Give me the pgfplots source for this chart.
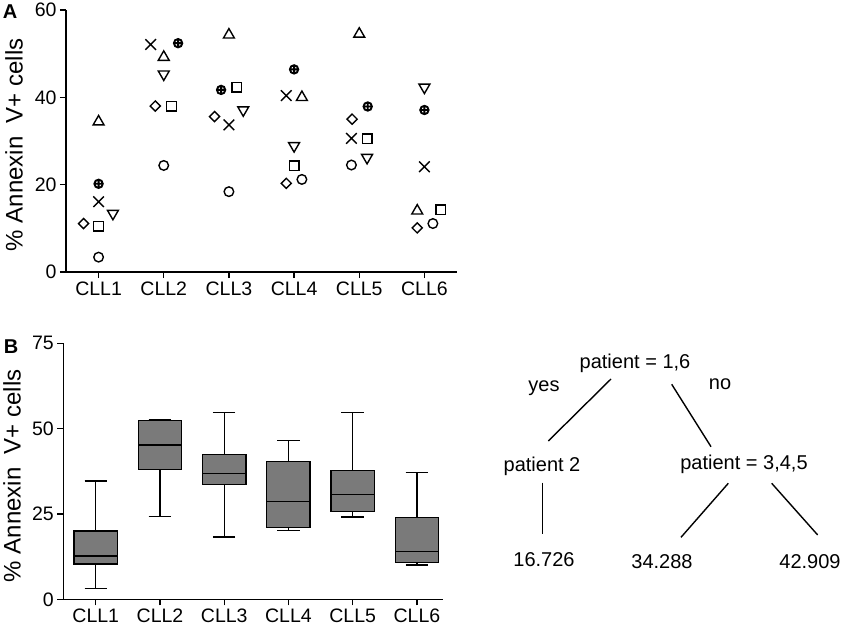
\documentclass[border=0pt]{standalone}
\usepackage{fontspec}
\setmainfont{Liberation Sans}
\usepackage{pgfplots}
\pgfplotsset{compat=1.18}
\usepgfplotslibrary{statistics}

\definecolor{boxgray}{RGB}{122,122,122}

\pgfplotsset{
  panel/.style={
    scale only axis,
    axis x line*=bottom, axis y line*=left,
    axis line style={line width=1.4pt, black},
    tick align=outside,
    major tick length=6pt,
    tick style={line width=1.4pt, black},
    xtick={1,...,6},
    xticklabels={CLL1,CLL2,CLL3,CLL4,CLL5,CLL6},
    tick label style={font=\fontsize{19.5}{22}\selectfont},
    /pgf/number format/assume math mode=true,
    ylabel={\%~Annexin\ \ V+ cells},
    ylabel style={font=\fontsize{24}{28}\selectfont, anchor=center},
  },
  mk/.style={only marks, black, line width=1.4pt},
  bx/.style={solid, draw=black, fill=boxgray, line width=1.4pt},
}

\begin{document}
\begin{tikzpicture}
\useasboundingbox (0,0) rectangle (844pt,-634pt);

% panel A: scatter per condition
\begin{axis}[panel,
  at={(66pt,-272pt)}, anchor=south west,
  width=391pt, height=262pt,
  xmin=0.5, xmax=6.5, ymin=0, ymax=60,
  ytick={0,20,40,60},
  ylabel style={at={(axis description cs:-0.133,0.485)}},
]
\addplot[mk, mark=o, mark size=4.8pt] coordinates {
  (1,3.4) (2,24.4) (3,18.4) (4.12,21.2) (4.88,24.5) (6.13,11.1)};
\addplot[mk, mark=square, mark size=3.6pt, mark options={rotate=45}] coordinates {
  (0.77,11.1) (1.87,38.0) (2.78,35.6) (3.88,20.3) (4.89,35.0) (5.89,10.1)};
\addplot[mk, mark=square, mark size=4.8pt] coordinates {
  (1,10.5) (2.12,38.0) (3.12,42.3) (4,24.3) (5.12,30.5) (6.25,14.2)};
\addplot[mk, mark=triangle, mark size=6.3pt] coordinates {
  (1,34.4) (2,49.2) (3,54.3) (4.12,40.0) (5,54.5) (5.89,14.0)};
\addplot[mk, mark=triangle, mark size=6.3pt, mark options={rotate=180}] coordinates {
  (1.22,13.4) (2,45.3) (3.22,37.1) (4,28.9) (5.12,26.2) (6,42.3)};
\addplot[mk, mark=x, mark size=7.5pt] coordinates {
  (1,16.1) (1.80,52.1) (3,33.7) (3.88,40.4) (4.88,30.6) (6,24.1)};
\addplot[mk, mark=oplus, mark size=4.2pt, line width=1.9pt] coordinates {
  (1,20.2) (2.22,52.4) (2.88,41.7) (4,46.4) (5.13,37.9) (6,37.1)};
\end{axis}

% panel B: box plots
\begin{axis}[panel,
  at={(63.3pt,-599.3pt)}, anchor=south west,
  width=380pt, height=256pt,
  xmin=0.495, xmax=6.41, ymin=0, ymax=75,
  ytick={0,25,50,75},
  ylabel style={at={(axis description cs:-0.135,0.482)}},
  boxplot/draw direction=y,
  boxplot/box extend=0.675,
  boxplot/whisker extend=0.35,
  boxplot/every whisker/.style={line width=1.4pt, draw=black},
  boxplot/every median/.style={line width=1.4pt, draw=black},
  boxplot/every box/.style={line width=1.4pt, draw=black, fill=boxgray},
]
\addplot[bx, boxplot prepared={draw position=1, lower whisker=3.1, lower quartile=10.3,
  median=12.7, upper quartile=20.0, upper whisker=34.7}] coordinates {};
\addplot[bx, boxplot prepared={draw position=2, lower whisker=24.3, lower quartile=38.1,
  median=45.2, upper quartile=52.3, upper whisker=52.6}] coordinates {};
\addplot[bx, boxplot prepared={draw position=3, lower whisker=18.2, lower quartile=33.7,
  median=36.9, upper quartile=42.4, upper whisker=54.7}] coordinates {};
\addplot[bx, boxplot prepared={draw position=4, lower whisker=20.1, lower quartile=21.0,
  median=28.6, upper quartile=40.4, upper whisker=46.5}] coordinates {};
\addplot[bx, boxplot prepared={draw position=5, lower whisker=24.1, lower quartile=25.7,
  median=30.7, upper quartile=37.8, upper whisker=54.7}] coordinates {};
\addplot[bx, boxplot prepared={draw position=6, lower whisker=10.0, lower quartile=10.8,
  median=14.0, upper quartile=23.9, upper whisker=37.1}] coordinates {};
\end{axis}

\node[font=\bfseries\fontsize{20}{22}\selectfont] at (10pt,-12pt) {A};
\node[font=\bfseries\fontsize{20}{22}\selectfont] at (11pt,-347pt) {B};

% regression tree
\begin{scope}[line width=1.4pt, every node/.style={font=\fontsize{20}{24}\selectfont}]
\draw (611pt,-379pt) -- (548.3pt,-441pt);
\draw (671.7pt,-384.3pt) -- (711pt,-446.7pt);
\draw (542.3pt,-482.7pt) -- (542.3pt,-534pt);
\draw (728.3pt,-483.3pt) -- (681pt,-537.3pt);
\draw (771.7pt,-483.3pt) -- (817.7pt,-535pt);
\node at (635pt,-363pt) {patient = 1,6};
\node at (544pt,-388pt) {yes};
\node at (720pt,-384pt) {no};
\node at (542pt,-466pt) {patient 2};
\node at (744pt,-464pt) {patient = 3,4,5};
\node at (544pt,-560pt) {16.726};
\node at (662pt,-562pt) {34.288};
\node at (810pt,-562pt) {42.909};
\end{scope}
\end{tikzpicture}
\end{document}
